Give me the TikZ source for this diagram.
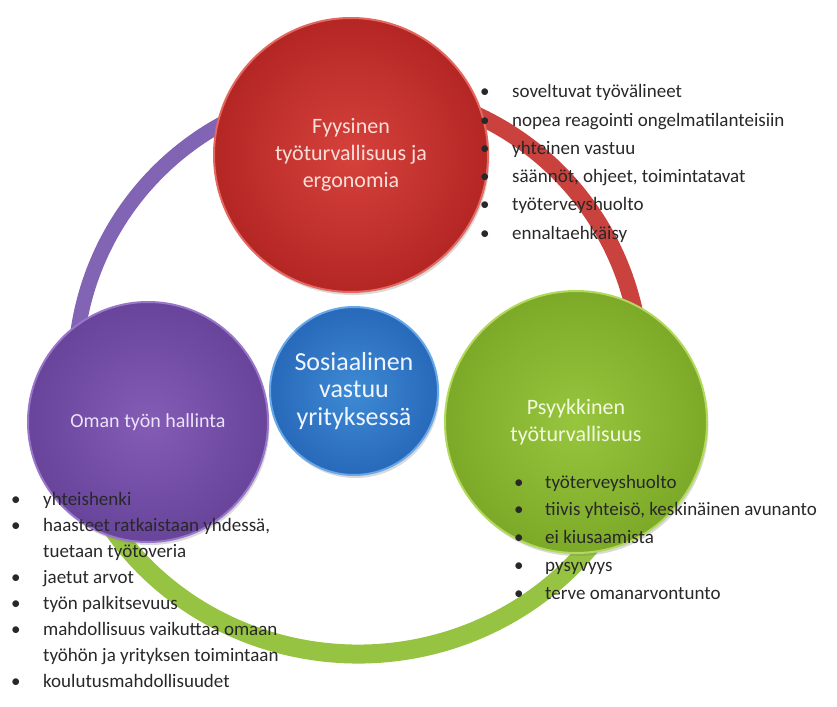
\documentclass[tikz,border=0pt]{standalone}
\usepackage{fontspec}
\setmainfont{Carlito}
\usetikzlibrary{shadows,calc}

\definecolor{testo}{RGB}{40,40,40}
\definecolor{anviola}{RGB}{130,100,180}
\definecolor{anrosso}{RGB}{202,66,62}
\definecolor{anverde}{RGB}{150,195,65}

\begin{document}
\begin{tikzpicture}[x=1pt, y=-1pt,
    disco/.style={circle, shading=radial, line width=2pt, align=center,
        drop shadow={opacity=0.3, shadow xshift=1.5pt, shadow yshift=-3pt}},
    anello/.style={line width=#1pt},
    voce/.style={anchor=base west, inner sep=0pt, text=testo, font=\fontsize{19}{23}\selectfont}]

    \useasboundingbox (0,0) rectangle (837,706);

    % Anello esterno: tre archi sotto i dischi
    \def\raggio{283}
    \coordinate (centro) at (358,372);
    \coordinate (av) at ($(centro)+(166.7:\raggio)$);
    \coordinate (ar) at ($(centro)+(267.6:\raggio)$);
    \coordinate (ag) at ($(centro)+(13:295 and 282)$);
    \draw[anello=15, anviola] (av) arc[start angle=166.7, end angle=267.6, radius=\raggio];
    \draw[anello=17, anrosso] (ar) arc[start angle=267.6, end angle=373, radius=\raggio];
    \draw[anello=19, anverde] (ag) arc[start angle=13, end angle=166.7, x radius=295, y radius=282];

    % Dischi
    \node[disco, minimum size=274pt, inner color={rgb,255:red,214;green,66;blue,60}, outer color={rgb,255:red,180;green,38;blue,36},
        draw={rgb,255:red,226;green,104;blue,96}, text={rgb,255:red,250;green,222;blue,216},
        font=\fontsize{22}{27}\selectfont] (fisica) at (351,155) {Fyysinen\\työturvallisuus ja\\ergonomia};
    \node[disco, minimum size=240pt, inner color={rgb,255:red,132;green,92;blue,182}, outer color={rgb,255:red,104;green,68;blue,155},
        draw={rgb,255:red,152;green,118;blue,202}, text={rgb,255:red,236;green,226;blue,250},
        font=\fontsize{20}{24}\selectfont] (oman) at (148,422) {Oman työn hallinta};
    \node[disco, minimum size=262pt, inner color={rgb,255:red,152;green,197;blue,62}, outer color={rgb,255:red,124;green,170;blue,40},
        draw={rgb,255:red,178;green,216;blue,92}, text={rgb,255:red,242;green,250;blue,222},
        font=\fontsize{22}{27}\selectfont] (psyyk) at (576,422) {Psyykkinen\\työturvallisuus};
    \node[disco, minimum size=168pt, inner color={rgb,255:red,62;green,138;blue,212}, outer color={rgb,255:red,40;green,105;blue,186},
        draw={rgb,255:red,104;green,168;blue,232}, text={rgb,255:red,240;green,246;blue,255},
        font=\fontsize{26}{27.5}\selectfont] (sos) at (354,391) {Sosiaalinen\\vastuu\\yrityksessä};

    % Elenco del disco rosso
    \foreach \t [count=\i from 0] in {soveltuvat työvälineet, nopea reagointi ongelmatilanteisiin, yhteinen vastuu,
        {säännöt, ohjeet, toimintatavat}, työterveyshuolto, ennaltaehkäisy} {
        \node[voce] at (480, 98+\i*28.2) {•};
        \node[voce] (r\i) at (512, 98+\i*28.2) {\t};
    }

    % Elenco del disco verde
    \foreach \t [count=\i from 0] in {työterveyshuolto, {tiivis yhteisö, keskinäinen avunanto}, ei kiusaamista,
        pysyvyys, terve omanarvontunto} {
        \node[voce] at (514, 488+\i*27.8) {•};
        \node[voce] (g\i) at (545, 488+\i*27.8) {\t};
    }

    % Elenco del disco viola (righe a capo senza punto)
    \foreach \y in {505,531,583,609,635,687} {
        \node[voce] at (11,\y) {•};
    }
    \foreach \t [count=\i from 0] in {yhteishenki, {haasteet ratkaistaan yhdessä,}, tuetaan työtoveria, jaetut arvot,
        työn palkitsevuus, mahdollisuus vaikuttaa omaan, työhön ja yrityksen toimintaan, koulutusmahdollisuudet} {
        \node[voce] (v\i) at (43, 505+\i*26) {\t};
    }
\end{tikzpicture}
\end{document}
